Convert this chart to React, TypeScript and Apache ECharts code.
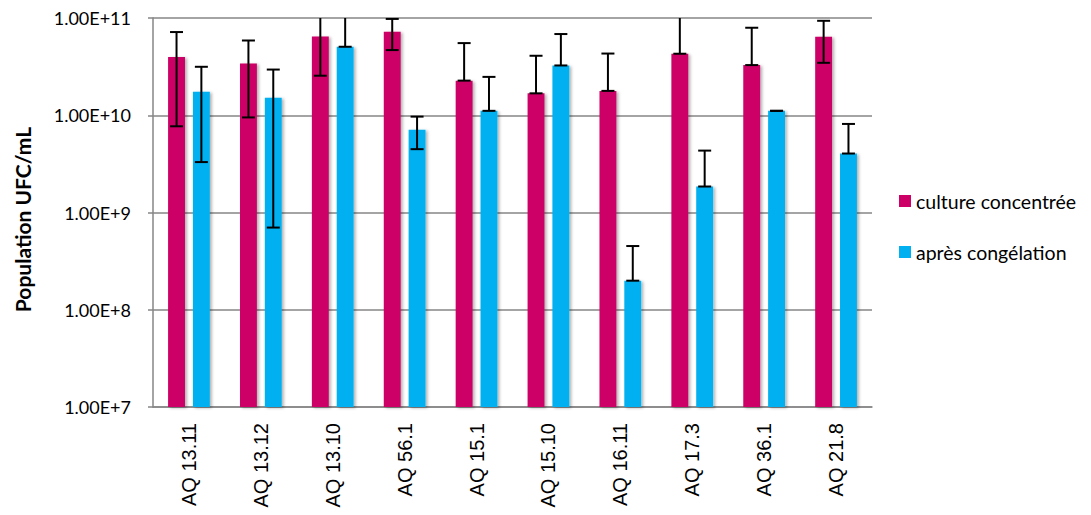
import React, { useEffect, useRef } from "react";
import * as echarts from "echarts";

const categories = ["AQ 13.11", "AQ 13.12", "AQ 13.10", "AQ 56.1", "AQ 15.1", "AQ 15.10", "AQ 16.11", "AQ 17.3", "AQ 36.1", "AQ 21.8"];
const cultureValues = [3.97e10, 3.41e10, 6.45e10, 7.23e10, 2.27e10, 1.68e10, 1.78e10, 4.29e10, 3.28e10, 6.41e10];
const cultureErrors = [3.2e10, 2.46e10, 3.9e10, 2.55e10, 3.25e10, 2.41e10, 2.53e10, 6.0e10, 4.66e10, 2.95e10];
const apresValues = [1.74e10, 1.51e10, 5.06e10, 7.08e9, 1.11e10, 3.25e10, 1.99e8, 1.85e9, 1.11e10, 4.04e9];
const apresErrors = [1.41e10, 1.44e10, 5.5e10, 2.6e9, 1.37e10, 3.59e10, 2.53e8, 2.48e9, 0, 4.1e9];
const seriesNames = ["culture concentrée", "après congélation"];
const yTicks = [1e7, 1e8, 1e9, 1e10, 1e11];

const BAR_FRAC = 0.235;
const BAR_GAP = 0.47;

function errorRender(sign: number) {
  return (params: any, api: any) => {
    const i = api.value(0);
    const v = api.value(1);
    const e = api.value(2);
    const cs = params.coordSys;
    const band = api.size([1, 0])[0];
    const off = sign * band * BAR_FRAC * (1 + BAR_GAP) / 2;
    const c = api.coord([i, v]);
    const x = c[0] + off;
    let yTop = api.coord([i, v + e])[1];
    let topCap = true;
    if (yTop < cs.y) {
      yTop = cs.y;
      topCap = false;
    }
    const low = v - e > 0 ? v - e : v;
    const yLow = api.coord([i, low])[1];
    const hw = 6.5;
    const style = { stroke: "#000", lineWidth: 2 };
    const children: any[] = [
      { type: "line", shape: { x1: x, y1: yTop, x2: x, y2: yLow }, style },
      { type: "line", shape: { x1: x - hw, y1: yLow, x2: x + hw, y2: yLow }, style },
    ];
    if (topCap) children.push({ type: "line", shape: { x1: x - hw, y1: yTop, x2: x + hw, y2: yTop }, style });
    return { type: "group", children };
  };
}

export default function App() {
  const ref = useRef<HTMLDivElement>(null);
  useEffect(() => {
    if (!ref.current) return;
    const chart = echarts.init(ref.current, undefined, { renderer: "svg" });
    const shadow = { shadowBlur: 3, shadowColor: "rgba(0,0,0,0.3)", shadowOffsetX: 2, shadowOffsetY: 1 };
    chart.setOption({
      animation: false,
      backgroundColor: "#fff",
      grid: { left: 153, right: 219, top: 18, bottom: 108, containLabel: false },
      legend: {
        data: seriesNames,
        orient: "vertical",
        left: 894,
        top: 186,
        itemWidth: 12,
        itemHeight: 12,
        itemGap: 31,
        icon: "rect",
        textStyle: { fontFamily: "Lato", fontSize: 19.5, color: "#000", lineHeight: 20 },
      },
      xAxis: {
        type: "category",
        data: categories,
        axisLine: { lineStyle: { color: "#868686", width: 1.5 } },
        axisTick: { show: false },
        axisLabel: { rotate: 90, margin: 16, fontFamily: "Liberation Sans", fontSize: 20, color: "#000", interval: 0 },
      },
      yAxis: {
        type: "log",
        logBase: 10,
        min: 1e7,
        max: 1e11,
        name: "Population UFC/mL",
        nameLocation: "middle",
        nameGap: 120,
        nameRotate: 90,
        nameTextStyle: { fontFamily: "Lato", fontWeight: "bold", fontSize: 21, color: "#000", padding: [0, 14, 0, 0] },
        axisLine: { show: true, lineStyle: { color: "#868686", width: 1.5 } },
        axisTick: { show: true, inside: false, length: 5, lineStyle: { color: "#868686", width: 1.5 } },
        splitLine: { lineStyle: { color: "#868686", width: 1.5 } },
        axisLabel: {
          margin: 22,
          fontFamily: "Lato",
          fontSize: 18,
          color: "#000",
          formatter: (v: number) => (yTicks.some((t) => Math.abs(t - v) / t < 1e-6) ? v.toExponential(2).toUpperCase() : ""),
        },
      },
      series: [
        {
          name: seriesNames[0],
          type: "bar",
          data: cultureValues,
          barWidth: BAR_FRAC * 100 + "%",
          barGap: BAR_GAP * 100 + "%",
          itemStyle: { color: "#CC0066", ...shadow },
        },
        {
          name: seriesNames[1],
          type: "bar",
          data: apresValues,
          barWidth: BAR_FRAC * 100 + "%",
          barGap: BAR_GAP * 100 + "%",
          itemStyle: { color: "#00B0F0", ...shadow },
        },
        {
          name: "err1",
          type: "custom",
          renderItem: errorRender(-1),
          data: cultureValues.map((v, i) => [i, v, cultureErrors[i]]),
          encode: { x: 0, y: 1 },
          z: 10,
          silent: true,
        },
        {
          name: "err2",
          type: "custom",
          renderItem: errorRender(1),
          data: apresValues.map((v, i) => [i, v, apresErrors[i]]),
          encode: { x: 0, y: 1 },
          z: 10,
          silent: true,
        },
      ],
    });
    return () => chart.dispose();
  }, []);
  return <div ref={ref} style={{ position: "absolute", left: 0, top: 0, width: 1091, height: 515 }} />;
}
